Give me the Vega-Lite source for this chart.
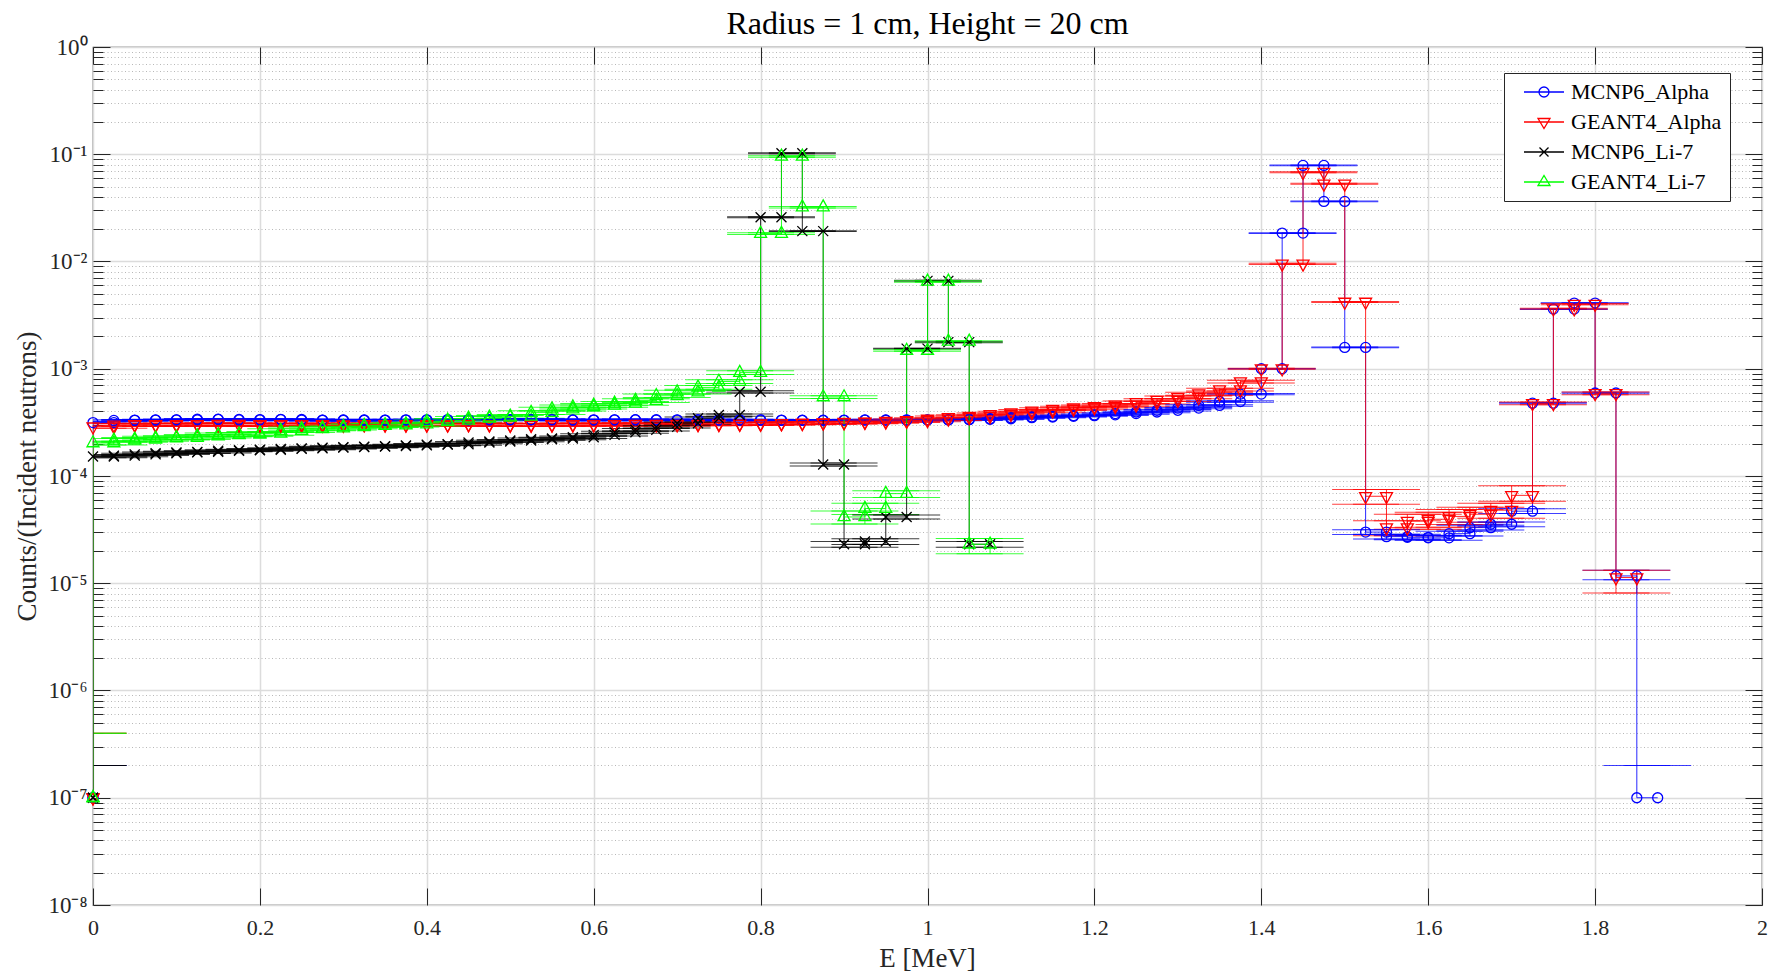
{
"$schema": "https://vega.github.io/schema/vega-lite/v6.json",
"width": 1669, "height": 858,
"autosize": {"type": "none"},
"padding": {"left": 93, "top": 47, "right": 12, "bottom": 70},
"background": "white",
"title": {"text": "Radius = 1 cm, Height = 20 cm", "font": "Liberation Serif", "fontSize": 32, "fontWeight": "normal", "color": "#000000", "offset": -5},
"config": {"view": {"stroke": "#262626", "strokeWidth": 1.2}, "font": "Liberation Serif"},
"data": {"values": [
{"s":"MCNP6_Alpha","e0":0,"e1":0,"y":1e-7,"hi":2e-7},
{"s":"MCNP6_Alpha","e0":0,"e1":0.025,"y":3.15e-4,"lo":3.10e-4,"hi":3.20e-4},
{"s":"MCNP6_Alpha","e0":0.025,"e1":0.05,"y":3.30e-4,"lo":3.25e-4,"hi":3.35e-4},
{"s":"MCNP6_Alpha","e0":0.05,"e1":0.075,"y":3.32e-4,"lo":3.27e-4,"hi":3.37e-4},
{"s":"MCNP6_Alpha","e0":0.075,"e1":0.1,"y":3.33e-4,"lo":3.28e-4,"hi":3.38e-4},
{"s":"MCNP6_Alpha","e0":0.1,"e1":0.125,"y":3.34e-4,"lo":3.29e-4,"hi":3.39e-4},
{"s":"MCNP6_Alpha","e0":0.125,"e1":0.15,"y":3.38e-4,"lo":3.33e-4,"hi":3.43e-4},
{"s":"MCNP6_Alpha","e0":0.15,"e1":0.175,"y":3.37e-4,"lo":3.32e-4,"hi":3.42e-4},
{"s":"MCNP6_Alpha","e0":0.175,"e1":0.2,"y":3.33e-4,"lo":3.28e-4,"hi":3.38e-4},
{"s":"MCNP6_Alpha","e0":0.2,"e1":0.225,"y":3.36e-4,"lo":3.31e-4,"hi":3.41e-4},
{"s":"MCNP6_Alpha","e0":0.225,"e1":0.25,"y":3.37e-4,"lo":3.32e-4,"hi":3.42e-4},
{"s":"MCNP6_Alpha","e0":0.25,"e1":0.275,"y":3.32e-4,"lo":3.27e-4,"hi":3.37e-4},
{"s":"MCNP6_Alpha","e0":0.275,"e1":0.3,"y":3.31e-4,"lo":3.26e-4,"hi":3.36e-4},
{"s":"MCNP6_Alpha","e0":0.3,"e1":0.325,"y":3.33e-4,"lo":3.28e-4,"hi":3.38e-4},
{"s":"MCNP6_Alpha","e0":0.325,"e1":0.35,"y":3.31e-4,"lo":3.26e-4,"hi":3.36e-4},
{"s":"MCNP6_Alpha","e0":0.35,"e1":0.375,"y":3.32e-4,"lo":3.27e-4,"hi":3.37e-4},
{"s":"MCNP6_Alpha","e0":0.375,"e1":0.4,"y":3.34e-4,"lo":3.29e-4,"hi":3.39e-4},
{"s":"MCNP6_Alpha","e0":0.4,"e1":0.425,"y":3.33e-4,"lo":3.28e-4,"hi":3.38e-4},
{"s":"MCNP6_Alpha","e0":0.425,"e1":0.45,"y":3.36e-4,"lo":3.31e-4,"hi":3.41e-4},
{"s":"MCNP6_Alpha","e0":0.45,"e1":0.475,"y":3.33e-4,"lo":3.28e-4,"hi":3.38e-4},
{"s":"MCNP6_Alpha","e0":0.475,"e1":0.5,"y":3.35e-4,"lo":3.30e-4,"hi":3.40e-4},
{"s":"MCNP6_Alpha","e0":0.5,"e1":0.525,"y":3.34e-4,"lo":3.29e-4,"hi":3.39e-4},
{"s":"MCNP6_Alpha","e0":0.525,"e1":0.55,"y":3.36e-4,"lo":3.31e-4,"hi":3.41e-4},
{"s":"MCNP6_Alpha","e0":0.55,"e1":0.575,"y":3.33e-4,"lo":3.28e-4,"hi":3.38e-4},
{"s":"MCNP6_Alpha","e0":0.575,"e1":0.6,"y":3.32e-4,"lo":3.27e-4,"hi":3.37e-4},
{"s":"MCNP6_Alpha","e0":0.6,"e1":0.625,"y":3.34e-4,"lo":3.29e-4,"hi":3.39e-4},
{"s":"MCNP6_Alpha","e0":0.625,"e1":0.65,"y":3.33e-4,"lo":3.28e-4,"hi":3.38e-4},
{"s":"MCNP6_Alpha","e0":0.65,"e1":0.675,"y":3.35e-4,"lo":3.30e-4,"hi":3.40e-4},
{"s":"MCNP6_Alpha","e0":0.675,"e1":0.7,"y":3.32e-4,"lo":3.27e-4,"hi":3.37e-4},
{"s":"MCNP6_Alpha","e0":0.7,"e1":0.725,"y":3.34e-4,"lo":3.29e-4,"hi":3.39e-4},
{"s":"MCNP6_Alpha","e0":0.725,"e1":0.75,"y":3.33e-4,"lo":3.28e-4,"hi":3.38e-4},
{"s":"MCNP6_Alpha","e0":0.75,"e1":0.775,"y":3.32e-4,"lo":3.27e-4,"hi":3.37e-4},
{"s":"MCNP6_Alpha","e0":0.775,"e1":0.8,"y":3.33e-4,"lo":3.28e-4,"hi":3.38e-4},
{"s":"MCNP6_Alpha","e0":0.8,"e1":0.825,"y":3.32e-4,"lo":3.27e-4,"hi":3.37e-4},
{"s":"MCNP6_Alpha","e0":0.825,"e1":0.85,"y":3.30e-4,"lo":3.25e-4,"hi":3.35e-4},
{"s":"MCNP6_Alpha","e0":0.85,"e1":0.875,"y":3.31e-4,"lo":3.26e-4,"hi":3.36e-4},
{"s":"MCNP6_Alpha","e0":0.875,"e1":0.9,"y":3.30e-4,"lo":3.25e-4,"hi":3.35e-4},
{"s":"MCNP6_Alpha","e0":0.9,"e1":0.925,"y":3.32e-4,"lo":3.27e-4,"hi":3.37e-4},
{"s":"MCNP6_Alpha","e0":0.925,"e1":0.95,"y":3.33e-4,"lo":3.28e-4,"hi":3.38e-4},
{"s":"MCNP6_Alpha","e0":0.95,"e1":0.975,"y":3.31e-4,"lo":3.26e-4,"hi":3.36e-4},
{"s":"MCNP6_Alpha","e0":0.975,"e1":1,"y":3.34e-4,"lo":3.29e-4,"hi":3.39e-4},
{"s":"MCNP6_Alpha","e0":1,"e1":1.025,"y":3.33e-4,"lo":3.28e-4,"hi":3.38e-4},
{"s":"MCNP6_Alpha","e0":1.025,"e1":1.05,"y":3.35e-4,"lo":3.30e-4,"hi":3.40e-4},
{"s":"MCNP6_Alpha","e0":1.05,"e1":1.075,"y":3.38e-4,"lo":3.33e-4,"hi":3.43e-4},
{"s":"MCNP6_Alpha","e0":1.075,"e1":1.1,"y":3.42e-4,"lo":3.37e-4,"hi":3.47e-4},
{"s":"MCNP6_Alpha","e0":1.1,"e1":1.125,"y":3.50e-4,"lo":3.45e-4,"hi":3.55e-4},
{"s":"MCNP6_Alpha","e0":1.125,"e1":1.15,"y":3.55e-4,"lo":3.50e-4,"hi":3.60e-4},
{"s":"MCNP6_Alpha","e0":1.15,"e1":1.175,"y":3.60e-4,"lo":3.55e-4,"hi":3.65e-4},
{"s":"MCNP6_Alpha","e0":1.175,"e1":1.2,"y":3.65e-4,"lo":3.60e-4,"hi":3.70e-4},
{"s":"MCNP6_Alpha","e0":1.2,"e1":1.225,"y":3.72e-4,"lo":3.66e-4,"hi":3.78e-4},
{"s":"MCNP6_Alpha","e0":1.225,"e1":1.25,"y":3.82e-4,"lo":3.76e-4,"hi":3.88e-4},
{"s":"MCNP6_Alpha","e0":1.25,"e1":1.275,"y":3.95e-4,"lo":3.89e-4,"hi":4.01e-4},
{"s":"MCNP6_Alpha","e0":1.275,"e1":1.3,"y":4.10e-4,"lo":4.04e-4,"hi":4.16e-4},
{"s":"MCNP6_Alpha","e0":1.3,"e1":1.325,"y":4.30e-4,"lo":4.24e-4,"hi":4.36e-4},
{"s":"MCNP6_Alpha","e0":1.325,"e1":1.35,"y":4.55e-4,"lo":4.48e-4,"hi":4.62e-4},
{"s":"MCNP6_Alpha","e0":1.35,"e1":1.375,"y":4.95e-4,"lo":4.88e-4,"hi":5.02e-4},
{"s":"MCNP6_Alpha","e0":1.375,"e1":1.4,"y":5.80e-4,"lo":5.71e-4,"hi":5.89e-4},
{"s":"MCNP6_Alpha","e0":1.4,"e1":1.425,"y":1.0e-3,"lo":9.92e-4,"hi":1.008e-3},
{"s":"MCNP6_Alpha","e0":1.425,"e1":1.45,"y":0.0184,"lo":0.01825,"hi":0.01855},
{"s":"MCNP6_Alpha","e0":1.45,"e1":1.475,"y":0.0787,"lo":0.0781,"hi":0.0793},
{"s":"MCNP6_Alpha","e0":1.475,"e1":1.5,"y":0.0363,"lo":0.0360,"hi":0.0366},
{"s":"MCNP6_Alpha","e0":1.5,"e1":1.525,"y":1.58e-3,"lo":1.567e-3,"hi":1.593e-3},
{"s":"MCNP6_Alpha","e0":1.525,"e1":1.55,"y":3.0e-5,"lo":2.85e-5,"hi":3.15e-5},
{"s":"MCNP6_Alpha","e0":1.55,"e1":1.575,"y":2.72e-5,"lo":2.58e-5,"hi":2.86e-5},
{"s":"MCNP6_Alpha","e0":1.575,"e1":1.6,"y":2.68e-5,"lo":2.55e-5,"hi":2.81e-5},
{"s":"MCNP6_Alpha","e0":1.6,"e1":1.625,"y":2.65e-5,"lo":2.52e-5,"hi":2.78e-5},
{"s":"MCNP6_Alpha","e0":1.625,"e1":1.65,"y":2.9e-5,"lo":2.76e-5,"hi":3.05e-5},
{"s":"MCNP6_Alpha","e0":1.65,"e1":1.675,"y":3.3e-5,"lo":3.14e-5,"hi":3.47e-5},
{"s":"MCNP6_Alpha","e0":1.675,"e1":1.7,"y":3.55e-5,"lo":3.37e-5,"hi":3.73e-5},
{"s":"MCNP6_Alpha","e0":1.7,"e1":1.725,"y":4.7e-5,"lo":4.47e-5,"hi":4.94e-5},
{"s":"MCNP6_Alpha","e0":1.725,"e1":1.75,"y":4.78e-4,"lo":4.71e-4,"hi":4.85e-4},
{"s":"MCNP6_Alpha","e0":1.75,"e1":1.775,"y":3.6e-3,"lo":3.57e-3,"hi":3.63e-3},
{"s":"MCNP6_Alpha","e0":1.775,"e1":1.8,"y":4.1e-3,"lo":4.07e-3,"hi":4.13e-3},
{"s":"MCNP6_Alpha","e0":1.8,"e1":1.825,"y":5.94e-4,"lo":5.85e-4,"hi":6.03e-4},
{"s":"MCNP6_Alpha","e0":1.825,"e1":1.85,"y":1.17e-5,"lo":1.08e-5,"hi":1.32e-5},
{"s":"MCNP6_Alpha","e0":1.85,"e1":1.875,"y":1e-7,"hi":2e-7},
{"s":"GEANT4_Alpha","e0":0,"e1":0,"y":1e-7,"hi":4e-7},
{"s":"GEANT4_Alpha","e0":0,"e1":0.025,"y":2.88e-4,"lo":2.79e-4,"hi":2.97e-4},
{"s":"GEANT4_Alpha","e0":0.025,"e1":0.05,"y":3.00e-4,"lo":2.91e-4,"hi":3.09e-4},
{"s":"GEANT4_Alpha","e0":0.05,"e1":0.075,"y":3.02e-4,"lo":2.93e-4,"hi":3.11e-4},
{"s":"GEANT4_Alpha","e0":0.075,"e1":0.1,"y":2.98e-4,"lo":2.89e-4,"hi":3.07e-4},
{"s":"GEANT4_Alpha","e0":0.1,"e1":0.125,"y":3.03e-4,"lo":2.94e-4,"hi":3.12e-4},
{"s":"GEANT4_Alpha","e0":0.125,"e1":0.15,"y":3.00e-4,"lo":2.91e-4,"hi":3.09e-4},
{"s":"GEANT4_Alpha","e0":0.15,"e1":0.175,"y":3.04e-4,"lo":2.95e-4,"hi":3.13e-4},
{"s":"GEANT4_Alpha","e0":0.175,"e1":0.2,"y":2.99e-4,"lo":2.90e-4,"hi":3.08e-4},
{"s":"GEANT4_Alpha","e0":0.2,"e1":0.225,"y":3.02e-4,"lo":2.93e-4,"hi":3.11e-4},
{"s":"GEANT4_Alpha","e0":0.225,"e1":0.25,"y":3.00e-4,"lo":2.91e-4,"hi":3.09e-4},
{"s":"GEANT4_Alpha","e0":0.25,"e1":0.275,"y":3.03e-4,"lo":2.94e-4,"hi":3.12e-4},
{"s":"GEANT4_Alpha","e0":0.275,"e1":0.3,"y":2.98e-4,"lo":2.89e-4,"hi":3.07e-4},
{"s":"GEANT4_Alpha","e0":0.3,"e1":0.325,"y":3.01e-4,"lo":2.92e-4,"hi":3.10e-4},
{"s":"GEANT4_Alpha","e0":0.325,"e1":0.35,"y":3.03e-4,"lo":2.94e-4,"hi":3.12e-4},
{"s":"GEANT4_Alpha","e0":0.35,"e1":0.375,"y":3.00e-4,"lo":2.91e-4,"hi":3.09e-4},
{"s":"GEANT4_Alpha","e0":0.375,"e1":0.4,"y":3.02e-4,"lo":2.93e-4,"hi":3.11e-4},
{"s":"GEANT4_Alpha","e0":0.4,"e1":0.425,"y":2.99e-4,"lo":2.90e-4,"hi":3.08e-4},
{"s":"GEANT4_Alpha","e0":0.425,"e1":0.45,"y":3.01e-4,"lo":2.92e-4,"hi":3.10e-4},
{"s":"GEANT4_Alpha","e0":0.45,"e1":0.475,"y":3.03e-4,"lo":2.94e-4,"hi":3.12e-4},
{"s":"GEANT4_Alpha","e0":0.475,"e1":0.5,"y":3.00e-4,"lo":2.91e-4,"hi":3.09e-4},
{"s":"GEANT4_Alpha","e0":0.5,"e1":0.525,"y":2.98e-4,"lo":2.89e-4,"hi":3.07e-4},
{"s":"GEANT4_Alpha","e0":0.525,"e1":0.55,"y":3.02e-4,"lo":2.93e-4,"hi":3.11e-4},
{"s":"GEANT4_Alpha","e0":0.55,"e1":0.575,"y":3.00e-4,"lo":2.91e-4,"hi":3.09e-4},
{"s":"GEANT4_Alpha","e0":0.575,"e1":0.6,"y":3.03e-4,"lo":2.94e-4,"hi":3.12e-4},
{"s":"GEANT4_Alpha","e0":0.6,"e1":0.625,"y":3.01e-4,"lo":2.92e-4,"hi":3.10e-4},
{"s":"GEANT4_Alpha","e0":0.625,"e1":0.65,"y":3.02e-4,"lo":2.93e-4,"hi":3.11e-4},
{"s":"GEANT4_Alpha","e0":0.65,"e1":0.675,"y":3.04e-4,"lo":2.95e-4,"hi":3.13e-4},
{"s":"GEANT4_Alpha","e0":0.675,"e1":0.7,"y":3.02e-4,"lo":2.93e-4,"hi":3.11e-4},
{"s":"GEANT4_Alpha","e0":0.7,"e1":0.725,"y":3.05e-4,"lo":2.96e-4,"hi":3.14e-4},
{"s":"GEANT4_Alpha","e0":0.725,"e1":0.75,"y":3.03e-4,"lo":2.94e-4,"hi":3.12e-4},
{"s":"GEANT4_Alpha","e0":0.75,"e1":0.775,"y":3.06e-4,"lo":2.97e-4,"hi":3.15e-4},
{"s":"GEANT4_Alpha","e0":0.775,"e1":0.8,"y":3.05e-4,"lo":2.96e-4,"hi":3.14e-4},
{"s":"GEANT4_Alpha","e0":0.8,"e1":0.825,"y":3.08e-4,"lo":2.99e-4,"hi":3.17e-4},
{"s":"GEANT4_Alpha","e0":0.825,"e1":0.85,"y":3.10e-4,"lo":3.01e-4,"hi":3.19e-4},
{"s":"GEANT4_Alpha","e0":0.85,"e1":0.875,"y":3.12e-4,"lo":3.03e-4,"hi":3.21e-4},
{"s":"GEANT4_Alpha","e0":0.875,"e1":0.9,"y":3.14e-4,"lo":3.05e-4,"hi":3.23e-4},
{"s":"GEANT4_Alpha","e0":0.9,"e1":0.925,"y":3.17e-4,"lo":3.07e-4,"hi":3.27e-4},
{"s":"GEANT4_Alpha","e0":0.925,"e1":0.95,"y":3.20e-4,"lo":3.10e-4,"hi":3.30e-4},
{"s":"GEANT4_Alpha","e0":0.95,"e1":0.975,"y":3.25e-4,"lo":3.15e-4,"hi":3.35e-4},
{"s":"GEANT4_Alpha","e0":0.975,"e1":1,"y":3.30e-4,"lo":3.20e-4,"hi":3.40e-4},
{"s":"GEANT4_Alpha","e0":1,"e1":1.025,"y":3.40e-4,"lo":3.30e-4,"hi":3.50e-4},
{"s":"GEANT4_Alpha","e0":1.025,"e1":1.05,"y":3.52e-4,"lo":3.41e-4,"hi":3.63e-4},
{"s":"GEANT4_Alpha","e0":1.05,"e1":1.075,"y":3.62e-4,"lo":3.51e-4,"hi":3.73e-4},
{"s":"GEANT4_Alpha","e0":1.075,"e1":1.1,"y":3.75e-4,"lo":3.64e-4,"hi":3.86e-4},
{"s":"GEANT4_Alpha","e0":1.1,"e1":1.125,"y":3.90e-4,"lo":3.78e-4,"hi":4.02e-4},
{"s":"GEANT4_Alpha","e0":1.125,"e1":1.15,"y":4.05e-4,"lo":3.93e-4,"hi":4.17e-4},
{"s":"GEANT4_Alpha","e0":1.15,"e1":1.175,"y":4.20e-4,"lo":4.07e-4,"hi":4.33e-4},
{"s":"GEANT4_Alpha","e0":1.175,"e1":1.2,"y":4.33e-4,"lo":4.20e-4,"hi":4.46e-4},
{"s":"GEANT4_Alpha","e0":1.2,"e1":1.225,"y":4.45e-4,"lo":4.32e-4,"hi":4.58e-4},
{"s":"GEANT4_Alpha","e0":1.225,"e1":1.25,"y":4.60e-4,"lo":4.46e-4,"hi":4.74e-4},
{"s":"GEANT4_Alpha","e0":1.25,"e1":1.275,"y":4.85e-4,"lo":4.70e-4,"hi":5.00e-4},
{"s":"GEANT4_Alpha","e0":1.275,"e1":1.3,"y":5.10e-4,"lo":4.95e-4,"hi":5.25e-4},
{"s":"GEANT4_Alpha","e0":1.3,"e1":1.325,"y":5.40e-4,"lo":5.24e-4,"hi":5.56e-4},
{"s":"GEANT4_Alpha","e0":1.325,"e1":1.35,"y":5.85e-4,"lo":5.67e-4,"hi":6.03e-4},
{"s":"GEANT4_Alpha","e0":1.35,"e1":1.375,"y":6.40e-4,"lo":6.21e-4,"hi":6.59e-4},
{"s":"GEANT4_Alpha","e0":1.375,"e1":1.4,"y":7.60e-4,"lo":7.37e-4,"hi":7.83e-4},
{"s":"GEANT4_Alpha","e0":1.4,"e1":1.425,"y":1.0e-3,"lo":9.88e-4,"hi":1.012e-3},
{"s":"GEANT4_Alpha","e0":1.425,"e1":1.45,"y":9.5e-3,"lo":9.39e-3,"hi":9.61e-3},
{"s":"GEANT4_Alpha","e0":1.45,"e1":1.475,"y":0.068,"lo":0.0672,"hi":0.0688},
{"s":"GEANT4_Alpha","e0":1.475,"e1":1.5,"y":0.053,"lo":0.0524,"hi":0.0536},
{"s":"GEANT4_Alpha","e0":1.5,"e1":1.525,"y":4.19e-3,"lo":4.14e-3,"hi":4.24e-3},
{"s":"GEANT4_Alpha","e0":1.525,"e1":1.55,"y":6.47e-5,"lo":5.45e-5,"hi":7.47e-5},
{"s":"GEANT4_Alpha","e0":1.55,"e1":1.575,"y":3.3e-5,"lo":2.77e-5,"hi":3.83e-5},
{"s":"GEANT4_Alpha","e0":1.575,"e1":1.6,"y":3.8e-5,"lo":3.19e-5,"hi":4.41e-5},
{"s":"GEANT4_Alpha","e0":1.6,"e1":1.625,"y":3.95e-5,"lo":3.32e-5,"hi":4.58e-5},
{"s":"GEANT4_Alpha","e0":1.625,"e1":1.65,"y":4.2e-5,"lo":3.53e-5,"hi":4.87e-5},
{"s":"GEANT4_Alpha","e0":1.65,"e1":1.675,"y":4.4e-5,"lo":3.7e-5,"hi":5.1e-5},
{"s":"GEANT4_Alpha","e0":1.675,"e1":1.7,"y":4.8e-5,"lo":4.03e-5,"hi":5.57e-5},
{"s":"GEANT4_Alpha","e0":1.7,"e1":1.725,"y":6.6e-5,"lo":5.8e-5,"hi":8.1e-5},
{"s":"GEANT4_Alpha","e0":1.725,"e1":1.75,"y":4.75e-4,"lo":4.61e-4,"hi":4.89e-4},
{"s":"GEANT4_Alpha","e0":1.75,"e1":1.775,"y":3.63e-3,"lo":3.59e-3,"hi":3.67e-3},
{"s":"GEANT4_Alpha","e0":1.775,"e1":1.8,"y":4.0e-3,"lo":3.95e-3,"hi":4.05e-3},
{"s":"GEANT4_Alpha","e0":1.8,"e1":1.825,"y":5.9e-4,"lo":5.72e-4,"hi":6.08e-4},
{"s":"GEANT4_Alpha","e0":1.825,"e1":1.85,"y":1.13e-5,"lo":8.1e-6,"hi":1.32e-5},
{"s":"MCNP6_Li-7","e0":0,"e1":0,"y":1e-7,"hi":2e-7},
{"s":"MCNP6_Li-7","e0":0,"e1":0.025,"y":1.52e-4,"lo":1.48e-4,"hi":1.56e-4},
{"s":"MCNP6_Li-7","e0":0.025,"e1":0.05,"y":1.55e-4,"lo":1.51e-4,"hi":1.59e-4},
{"s":"MCNP6_Li-7","e0":0.05,"e1":0.075,"y":1.59e-4,"lo":1.55e-4,"hi":1.63e-4},
{"s":"MCNP6_Li-7","e0":0.075,"e1":0.1,"y":1.63e-4,"lo":1.59e-4,"hi":1.67e-4},
{"s":"MCNP6_Li-7","e0":0.1,"e1":0.125,"y":1.66e-4,"lo":1.62e-4,"hi":1.70e-4},
{"s":"MCNP6_Li-7","e0":0.125,"e1":0.15,"y":1.68e-4,"lo":1.64e-4,"hi":1.72e-4},
{"s":"MCNP6_Li-7","e0":0.15,"e1":0.175,"y":1.72e-4,"lo":1.68e-4,"hi":1.76e-4},
{"s":"MCNP6_Li-7","e0":0.175,"e1":0.2,"y":1.74e-4,"lo":1.70e-4,"hi":1.78e-4},
{"s":"MCNP6_Li-7","e0":0.2,"e1":0.225,"y":1.76e-4,"lo":1.72e-4,"hi":1.80e-4},
{"s":"MCNP6_Li-7","e0":0.225,"e1":0.25,"y":1.79e-4,"lo":1.75e-4,"hi":1.83e-4},
{"s":"MCNP6_Li-7","e0":0.25,"e1":0.275,"y":1.81e-4,"lo":1.76e-4,"hi":1.86e-4},
{"s":"MCNP6_Li-7","e0":0.275,"e1":0.3,"y":1.84e-4,"lo":1.79e-4,"hi":1.89e-4},
{"s":"MCNP6_Li-7","e0":0.3,"e1":0.325,"y":1.86e-4,"lo":1.81e-4,"hi":1.91e-4},
{"s":"MCNP6_Li-7","e0":0.325,"e1":0.35,"y":1.88e-4,"lo":1.83e-4,"hi":1.93e-4},
{"s":"MCNP6_Li-7","e0":0.35,"e1":0.375,"y":1.90e-4,"lo":1.85e-4,"hi":1.95e-4},
{"s":"MCNP6_Li-7","e0":0.375,"e1":0.4,"y":1.93e-4,"lo":1.88e-4,"hi":1.98e-4},
{"s":"MCNP6_Li-7","e0":0.4,"e1":0.425,"y":1.96e-4,"lo":1.91e-4,"hi":2.01e-4},
{"s":"MCNP6_Li-7","e0":0.425,"e1":0.45,"y":1.98e-4,"lo":1.93e-4,"hi":2.03e-4},
{"s":"MCNP6_Li-7","e0":0.45,"e1":0.475,"y":2.05e-4,"lo":2.00e-4,"hi":2.10e-4},
{"s":"MCNP6_Li-7","e0":0.475,"e1":0.5,"y":2.10e-4,"lo":2.05e-4,"hi":2.15e-4},
{"s":"MCNP6_Li-7","e0":0.5,"e1":0.525,"y":2.14e-4,"lo":2.09e-4,"hi":2.19e-4},
{"s":"MCNP6_Li-7","e0":0.525,"e1":0.55,"y":2.20e-4,"lo":2.15e-4,"hi":2.26e-4},
{"s":"MCNP6_Li-7","e0":0.55,"e1":0.575,"y":2.24e-4,"lo":2.18e-4,"hi":2.30e-4},
{"s":"MCNP6_Li-7","e0":0.575,"e1":0.6,"y":2.30e-4,"lo":2.24e-4,"hi":2.36e-4},
{"s":"MCNP6_Li-7","e0":0.6,"e1":0.625,"y":2.42e-4,"lo":2.36e-4,"hi":2.48e-4},
{"s":"MCNP6_Li-7","e0":0.625,"e1":0.65,"y":2.56e-4,"lo":2.50e-4,"hi":2.62e-4},
{"s":"MCNP6_Li-7","e0":0.65,"e1":0.675,"y":2.70e-4,"lo":2.63e-4,"hi":2.77e-4},
{"s":"MCNP6_Li-7","e0":0.675,"e1":0.7,"y":2.87e-4,"lo":2.80e-4,"hi":2.94e-4},
{"s":"MCNP6_Li-7","e0":0.7,"e1":0.725,"y":3.10e-4,"lo":3.02e-4,"hi":3.18e-4},
{"s":"MCNP6_Li-7","e0":0.725,"e1":0.75,"y":3.45e-4,"lo":3.36e-4,"hi":3.54e-4},
{"s":"MCNP6_Li-7","e0":0.75,"e1":0.775,"y":3.70e-4,"lo":3.61e-4,"hi":3.79e-4},
{"s":"MCNP6_Li-7","e0":0.775,"e1":0.8,"y":6.10e-4,"lo":5.95e-4,"hi":6.25e-4},
{"s":"MCNP6_Li-7","e0":0.8,"e1":0.825,"y":0.0259,"lo":0.0256,"hi":0.0262},
{"s":"MCNP6_Li-7","e0":0.825,"e1":0.85,"y":0.102,"lo":0.101,"hi":0.103},
{"s":"MCNP6_Li-7","e0":0.85,"e1":0.875,"y":0.0192,"lo":0.0190,"hi":0.0194},
{"s":"MCNP6_Li-7","e0":0.875,"e1":0.9,"y":1.28e-4,"lo":1.24e-4,"hi":1.32e-4},
{"s":"MCNP6_Li-7","e0":0.9,"e1":0.925,"y":2.31e-5,"lo":2.17e-5,"hi":2.45e-5},
{"s":"MCNP6_Li-7","e0":0.925,"e1":0.95,"y":2.45e-5,"lo":2.30e-5,"hi":2.60e-5},
{"s":"MCNP6_Li-7","e0":0.95,"e1":0.975,"y":4.15e-5,"lo":3.98e-5,"hi":4.32e-5},
{"s":"MCNP6_Li-7","e0":0.975,"e1":1,"y":1.54e-3,"lo":1.525e-3,"hi":1.555e-3},
{"s":"MCNP6_Li-7","e0":1,"e1":1.025,"y":6.6e-3,"lo":6.53e-3,"hi":6.67e-3},
{"s":"MCNP6_Li-7","e0":1.025,"e1":1.05,"y":1.77e-3,"lo":1.75e-3,"hi":1.79e-3},
{"s":"MCNP6_Li-7","e0":1.05,"e1":1.075,"y":2.31e-5,"lo":2.17e-5,"hi":2.45e-5},
{"s":"GEANT4_Li-7","e0":0,"e1":0,"y":1e-7,"hi":4e-7},
{"s":"GEANT4_Li-7","e0":0,"e1":0.025,"y":2.03e-4,"lo":1.95e-4,"hi":2.11e-4},
{"s":"GEANT4_Li-7","e0":0.025,"e1":0.05,"y":2.15e-4,"lo":2.06e-4,"hi":2.24e-4},
{"s":"GEANT4_Li-7","e0":0.05,"e1":0.075,"y":2.20e-4,"lo":2.11e-4,"hi":2.29e-4},
{"s":"GEANT4_Li-7","e0":0.075,"e1":0.1,"y":2.26e-4,"lo":2.17e-4,"hi":2.35e-4},
{"s":"GEANT4_Li-7","e0":0.1,"e1":0.125,"y":2.28e-4,"lo":2.19e-4,"hi":2.37e-4},
{"s":"GEANT4_Li-7","e0":0.125,"e1":0.15,"y":2.35e-4,"lo":2.26e-4,"hi":2.44e-4},
{"s":"GEANT4_Li-7","e0":0.15,"e1":0.175,"y":2.42e-4,"lo":2.32e-4,"hi":2.52e-4},
{"s":"GEANT4_Li-7","e0":0.175,"e1":0.2,"y":2.45e-4,"lo":2.35e-4,"hi":2.55e-4},
{"s":"GEANT4_Li-7","e0":0.2,"e1":0.225,"y":2.50e-4,"lo":2.40e-4,"hi":2.60e-4},
{"s":"GEANT4_Li-7","e0":0.225,"e1":0.25,"y":2.65e-4,"lo":2.54e-4,"hi":2.76e-4},
{"s":"GEANT4_Li-7","e0":0.25,"e1":0.275,"y":2.75e-4,"lo":2.64e-4,"hi":2.86e-4},
{"s":"GEANT4_Li-7","e0":0.275,"e1":0.3,"y":2.80e-4,"lo":2.69e-4,"hi":2.91e-4},
{"s":"GEANT4_Li-7","e0":0.3,"e1":0.325,"y":2.88e-4,"lo":2.76e-4,"hi":3.00e-4},
{"s":"GEANT4_Li-7","e0":0.325,"e1":0.35,"y":2.95e-4,"lo":2.83e-4,"hi":3.07e-4},
{"s":"GEANT4_Li-7","e0":0.35,"e1":0.375,"y":2.98e-4,"lo":2.86e-4,"hi":3.10e-4},
{"s":"GEANT4_Li-7","e0":0.375,"e1":0.4,"y":3.05e-4,"lo":2.93e-4,"hi":3.17e-4},
{"s":"GEANT4_Li-7","e0":0.4,"e1":0.425,"y":3.22e-4,"lo":3.09e-4,"hi":3.35e-4},
{"s":"GEANT4_Li-7","e0":0.425,"e1":0.45,"y":3.30e-4,"lo":3.17e-4,"hi":3.43e-4},
{"s":"GEANT4_Li-7","e0":0.45,"e1":0.475,"y":3.45e-4,"lo":3.31e-4,"hi":3.59e-4},
{"s":"GEANT4_Li-7","e0":0.475,"e1":0.5,"y":3.52e-4,"lo":3.38e-4,"hi":3.66e-4},
{"s":"GEANT4_Li-7","e0":0.5,"e1":0.525,"y":3.60e-4,"lo":3.46e-4,"hi":3.74e-4},
{"s":"GEANT4_Li-7","e0":0.525,"e1":0.55,"y":3.90e-4,"lo":3.74e-4,"hi":4.06e-4},
{"s":"GEANT4_Li-7","e0":0.55,"e1":0.575,"y":4.20e-4,"lo":4.03e-4,"hi":4.37e-4},
{"s":"GEANT4_Li-7","e0":0.575,"e1":0.6,"y":4.40e-4,"lo":4.22e-4,"hi":4.58e-4},
{"s":"GEANT4_Li-7","e0":0.6,"e1":0.625,"y":4.55e-4,"lo":4.37e-4,"hi":4.73e-4},
{"s":"GEANT4_Li-7","e0":0.625,"e1":0.65,"y":4.75e-4,"lo":4.56e-4,"hi":4.94e-4},
{"s":"GEANT4_Li-7","e0":0.65,"e1":0.675,"y":5.05e-4,"lo":4.85e-4,"hi":5.25e-4},
{"s":"GEANT4_Li-7","e0":0.675,"e1":0.7,"y":5.60e-4,"lo":5.38e-4,"hi":5.82e-4},
{"s":"GEANT4_Li-7","e0":0.7,"e1":0.725,"y":6.05e-4,"lo":5.81e-4,"hi":6.29e-4},
{"s":"GEANT4_Li-7","e0":0.725,"e1":0.75,"y":6.70e-4,"lo":6.43e-4,"hi":6.97e-4},
{"s":"GEANT4_Li-7","e0":0.75,"e1":0.775,"y":7.60e-4,"lo":7.30e-4,"hi":7.90e-4},
{"s":"GEANT4_Li-7","e0":0.775,"e1":0.8,"y":9.20e-4,"lo":8.83e-4,"hi":9.57e-4},
{"s":"GEANT4_Li-7","e0":0.8,"e1":0.825,"y":0.0182,"lo":0.0179,"hi":0.0185},
{"s":"GEANT4_Li-7","e0":0.825,"e1":0.85,"y":0.0954,"lo":0.0940,"hi":0.0968},
{"s":"GEANT4_Li-7","e0":0.85,"e1":0.875,"y":0.0321,"lo":0.0316,"hi":0.0326},
{"s":"GEANT4_Li-7","e0":0.875,"e1":0.9,"y":5.45e-4,"lo":5.29e-4,"hi":5.61e-4},
{"s":"GEANT4_Li-7","e0":0.9,"e1":0.925,"y":4.15e-5,"lo":3.57e-5,"hi":4.72e-5},
{"s":"GEANT4_Li-7","e0":0.925,"e1":0.95,"y":4.97e-5,"lo":4.37e-5,"hi":5.57e-5},
{"s":"GEANT4_Li-7","e0":0.95,"e1":0.975,"y":6.85e-5,"lo":6.3e-5,"hi":7.3e-5},
{"s":"GEANT4_Li-7","e0":0.975,"e1":1,"y":1.48e-3,"lo":1.458e-3,"hi":1.502e-3},
{"s":"GEANT4_Li-7","e0":1,"e1":1.025,"y":6.52e-3,"lo":6.42e-3,"hi":6.62e-3},
{"s":"GEANT4_Li-7","e0":1.025,"e1":1.05,"y":1.8e-3,"lo":1.773e-3,"hi":1.827e-3},
{"s":"GEANT4_Li-7","e0":1.05,"e1":1.075,"y":2.31e-5,"lo":1.88e-5,"hi":2.62e-5}
]},
"transform": [{"fold": ["e0", "e1"], "as": ["k", "x"]}],
"resolve": {"axis": {"x": "independent", "y": "independent"}, "scale": {"color": "independent", "shape": "independent"}},
"layer": [
{
 "mark": {"type": "point", "filled": false, "size": 100, "strokeWidth": 1.3, "opacity": 0},
 "encoding": {
  "x": {"field": "x", "type": "quantitative", "scale": {"domain": [0, 2], "nice": false, "zero": false}, "axis": null},
  "y": {"field": "y", "type": "quantitative", "scale": {"type": "log", "domain": [1e-8, 1], "nice": false}, "axis": null},
  "color": {"field": "s", "type": "nominal", "scale": {"domain": ["MCNP6_Alpha", "GEANT4_Alpha", "MCNP6_Li-7", "GEANT4_Li-7"], "range": ["#0000ff", "#ff0000", "#000000", "#00ff00"]},
   "legend": {"orient": "none", "legendX": 1411, "legendY": 26, "title": null, "fillColor": "white", "strokeColor": "#262626", "padding": 8, "rowPadding": 8, "labelFont": "Liberation Serif", "labelFontSize": 22, "labelColor": "#000000", "labelOffset": 26, "labelLimit": 400, "labelExpr": "datum.label + '\u00a0\u00a0\u00a0'", "symbolSize": 400, "symbolStrokeWidth": 1.3, "symbolOffset": 11, "symbolOpacity": 1,
    "encode": {"symbols": {"opacity": {"value": 1}, "fill": {"value": "transparent"}}}}},
  "shape": {"field": "s", "type": "nominal", "scale": {"domain": ["MCNP6_Alpha", "GEANT4_Alpha", "MCNP6_Li-7", "GEANT4_Li-7"], "range": ["M-1,0H3M0.5,0A0.5,0.5 0 1,0 1.5,0A0.5,0.5 0 1,0 0.5,0", "M-1,0H3M0.4,-0.35H1.6L1,0.65Z", "M-1,0H3M0.55,-0.45L1.45,0.45M0.55,0.45L1.45,-0.45", "M-1,0H3M0.4,0.35H1.6L1,-0.65Z"]},
   "legend": {"orient": "none", "legendX": 1411, "legendY": 26, "title": null, "fillColor": "white", "strokeColor": "#262626", "padding": 8, "rowPadding": 8, "labelFont": "Liberation Serif", "labelFontSize": 22, "labelColor": "#000000", "labelOffset": 26, "labelLimit": 400, "labelExpr": "datum.label + '\u00a0\u00a0\u00a0'", "symbolSize": 400, "symbolStrokeWidth": 1.3, "symbolOffset": 11, "symbolOpacity": 1}}
 }
},
{
 "mark": {"type": "tick", "orient": "horizontal", "size": 67, "thickness": 1, "opacity": 0.75, "clip": true},
 "encoding": {
  "x": {"field": "x", "type": "quantitative", "scale": {"domain": [0, 2], "nice": false, "zero": false},
   "axis": {"orient": "top", "values": [0,0.2,0.4,0.6,0.8,1,1.2,1.4,1.6,1.8,2], "labels": false, "grid": false, "domain": false, "tickSize": -17, "tickColor": "#262626", "title": null}},
  "y": {"field": "lo", "type": "quantitative", "scale": {"type": "log", "domain": [1e-8, 1], "nice": false},
   "axis": {"orient": "left", "values": [2e-8,3e-8,4e-8,5e-8,6e-8,7e-8,8e-8,9e-8,2e-7,3e-7,4e-7,5e-7,6e-7,7e-7,8e-7,9e-7,2e-6,3e-6,4e-6,5e-6,6e-6,7e-6,8e-6,9e-6,2e-5,3e-5,4e-5,5e-5,6e-5,7e-5,8e-5,9e-5,2e-4,3e-4,4e-4,5e-4,6e-4,7e-4,8e-4,9e-4,2e-3,3e-3,4e-3,5e-3,6e-3,7e-3,8e-3,9e-3,0.02,0.03,0.04,0.05,0.06,0.07,0.08,0.09,0.2,0.3,0.4,0.5,0.6,0.7,0.8,0.9], "labels": false, "domain": false, "tickSize": -10, "tickColor": "#262626", "grid": true, "gridColor": "#b8b8b8", "gridDash": [1, 2.5], "gridWidth": 1, "title": null}},
  "color": {"field": "s", "type": "nominal", "scale": {"domain": ["MCNP6_Alpha", "GEANT4_Alpha", "MCNP6_Li-7", "GEANT4_Li-7"], "range": ["#0000ff", "#ff0000", "#000000", "#00ff00"]}, "legend": null}
 }
},
{
 "mark": {"type": "tick", "orient": "horizontal", "size": 67, "thickness": 1, "opacity": 0.75, "clip": true},
 "encoding": {
  "x": {"field": "x", "type": "quantitative", "scale": {"domain": [0, 2], "nice": false, "zero": false}, "axis": null},
  "y": {"field": "hi", "type": "quantitative", "scale": {"type": "log", "domain": [1e-8, 1], "nice": false},
   "axis": {"orient": "right", "values": [1e-8,1e-7,1e-6,1e-5,1e-4,1e-3,1e-2,1e-1,1], "labels": false, "grid": false, "domain": false, "tickSize": -17, "tickColor": "#262626", "title": null}},
  "color": {"field": "s", "type": "nominal", "scale": {"domain": ["MCNP6_Alpha", "GEANT4_Alpha", "MCNP6_Li-7", "GEANT4_Li-7"], "range": ["#0000ff", "#ff0000", "#000000", "#00ff00"]}, "legend": null}
 }
},
{
 "mark": {"type": "rule", "strokeWidth": 1, "opacity": 0.8},
 "encoding": {
  "x": {"field": "x", "type": "quantitative", "scale": {"domain": [0, 2], "nice": false, "zero": false}, "axis": null},
  "y": {"field": "lo", "type": "quantitative", "scale": {"type": "log", "domain": [1e-8, 1], "nice": false}, "axis": null},
  "y2": {"field": "hi"},
  "color": {"field": "s", "type": "nominal", "scale": {"domain": ["MCNP6_Alpha", "GEANT4_Alpha", "MCNP6_Li-7", "GEANT4_Li-7"], "range": ["#0000ff", "#ff0000", "#000000", "#00ff00"]}, "legend": null}
 }
},
{
 "mark": {"type": "line", "strokeWidth": 1, "opacity": 0.85, "clip": true},
 "encoding": {
  "x": {"field": "x", "type": "quantitative", "scale": {"domain": [0, 2], "nice": false, "zero": false},
   "axis": {"orient": "bottom", "values": [0,0.2,0.4,0.6,0.8,1,1.2,1.4,1.6,1.8,2], "format": "~g", "labelFont": "Liberation Serif", "labelFontSize": 22, "labelColor": "#262626", "labelFlush": false, "labelOverlap": false, "labelPadding": 29, "tickSize": -17, "tickColor": "#262626", "domain": false, "grid": true, "gridColor": "#dcdcdc", "gridWidth": 1.5,
    "title": "E [MeV]", "titleFont": "Liberation Serif", "titleFontSize": 27, "titleFontWeight": "normal", "titleColor": "#262626", "titleX": 834, "titleY": 53, "titleBaseline": "middle", "titleAlign": "center"}},
  "y": {"field": "y", "type": "quantitative", "scale": {"type": "log", "domain": [1e-8, 1], "nice": false},
   "axis": {"orient": "left", "values": [1e-8,1e-7,1e-6,1e-5,1e-4,1e-3,1e-2,1e-1,1], "labelExpr": "'10' + ['⁰','⁻¹','⁻²','⁻³','⁻⁴','⁻⁵','⁻⁶','⁻⁷','⁻⁸'][round(-log(datum.value)/LN10)]", "labelFont": "Liberation Serif", "labelFontSize": 23, "labelColor": "#262626", "labelFlush": false, "labelOverlap": false, "labelPadding": 23, "tickSize": -17, "tickColor": "#262626", "domain": false, "grid": true, "gridColor": "#dcdcdc", "gridWidth": 1.5,
    "title": "Counts/(Incident neutrons)", "titleFont": "Liberation Serif", "titleFontSize": 27, "titleFontWeight": "normal", "titleColor": "#262626", "titleX": -66, "titleY": 429, "titleAngle": -90, "titleBaseline": "middle", "titleAlign": "center"}},
  "color": {"field": "s", "type": "nominal", "scale": {"domain": ["MCNP6_Alpha", "GEANT4_Alpha", "MCNP6_Li-7", "GEANT4_Li-7"], "range": ["#0000ff", "#ff0000", "#000000", "#00ff00"]}, "legend": null},
  "order": {"value": null}
 }
},
{
 "mark": {"type": "point", "filled": false, "size": 100, "strokeWidth": 1.3, "opacity": 1},
 "encoding": {
  "x": {"field": "x", "type": "quantitative", "scale": {"domain": [0, 2], "nice": false, "zero": false}, "axis": null},
  "y": {"field": "y", "type": "quantitative", "scale": {"type": "log", "domain": [1e-8, 1], "nice": false},
   "axis": {"orient": "right", "values": [2e-8,3e-8,4e-8,5e-8,6e-8,7e-8,8e-8,9e-8,2e-7,3e-7,4e-7,5e-7,6e-7,7e-7,8e-7,9e-7,2e-6,3e-6,4e-6,5e-6,6e-6,7e-6,8e-6,9e-6,2e-5,3e-5,4e-5,5e-5,6e-5,7e-5,8e-5,9e-5,2e-4,3e-4,4e-4,5e-4,6e-4,7e-4,8e-4,9e-4,2e-3,3e-3,4e-3,5e-3,6e-3,7e-3,8e-3,9e-3,0.02,0.03,0.04,0.05,0.06,0.07,0.08,0.09,0.2,0.3,0.4,0.5,0.6,0.7,0.8,0.9], "labels": false, "grid": false, "domain": false, "tickSize": -10, "tickColor": "#262626", "title": null}},
  "shape": {"field": "s", "type": "nominal", "scale": {"domain": ["MCNP6_Alpha", "GEANT4_Alpha", "MCNP6_Li-7", "GEANT4_Li-7"], "range": ["M-1,0A1,1 0 1,0 1,0A1,1 0 1,0 -1,0", "M-1.2,-0.75H1.2L0,1.45Z", "M-1,-1L1,1M-1,1L1,-1", "M-1.2,0.75H1.2L0,-1.45Z"]}, "legend": null},
  "color": {"field": "s", "type": "nominal", "scale": {"domain": ["MCNP6_Alpha", "GEANT4_Alpha", "MCNP6_Li-7", "GEANT4_Li-7"], "range": ["#0000ff", "#ff0000", "#000000", "#00ff00"]}, "legend": null}
 }
}
]
}
